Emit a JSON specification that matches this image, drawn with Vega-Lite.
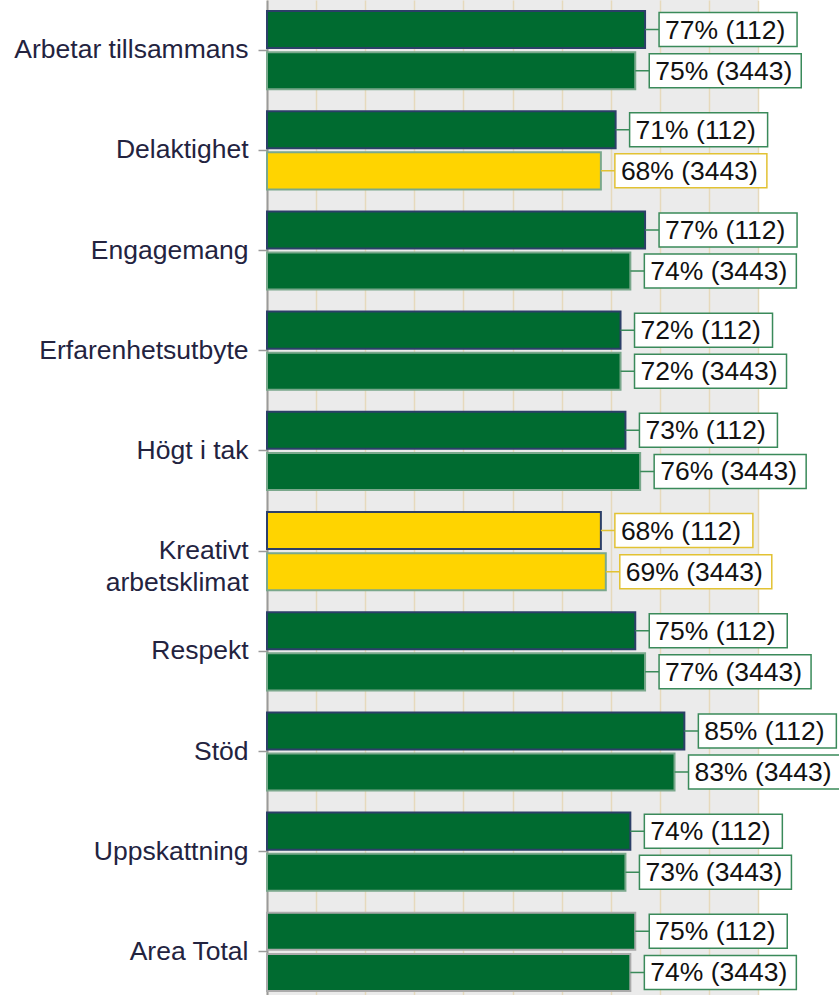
{
  "$schema": "https://vega.github.io/schema/vega-lite/v6.json",
  "width": 491,
  "height": 1002,
  "autosize": {"type": "none"},
  "padding": {"left": 267, "top": 0, "right": 81, "bottom": 0},
  "background": "white",
  "config": {
    "view": {"fill": "#ebebeb", "stroke": null},
    "font": "Liberation Sans"
  },
  "data": {
    "values": [
      {"category": "Arbetar tillsammans", "group": "112", "value": 0.77, "label": "77% (112)"},
      {"category": "Arbetar tillsammans", "group": "3443", "value": 0.75, "label": "75% (3443)"},
      {"category": "Delaktighet", "group": "112", "value": 0.71, "label": "71% (112)"},
      {"category": "Delaktighet", "group": "3443", "value": 0.68, "label": "68% (3443)"},
      {"category": "Engagemang", "group": "112", "value": 0.77, "label": "77% (112)"},
      {"category": "Engagemang", "group": "3443", "value": 0.74, "label": "74% (3443)"},
      {"category": "Erfarenhetsutbyte", "group": "112", "value": 0.72, "label": "72% (112)"},
      {"category": "Erfarenhetsutbyte", "group": "3443", "value": 0.72, "label": "72% (3443)"},
      {"category": "Högt i tak", "group": "112", "value": 0.73, "label": "73% (112)"},
      {"category": "Högt i tak", "group": "3443", "value": 0.76, "label": "76% (3443)"},
      {"category": "Kreativt arbetsklimat", "group": "112", "value": 0.68, "label": "68% (112)"},
      {"category": "Kreativt arbetsklimat", "group": "3443", "value": 0.69, "label": "69% (3443)"},
      {"category": "Respekt", "group": "112", "value": 0.75, "label": "75% (112)"},
      {"category": "Respekt", "group": "3443", "value": 0.77, "label": "77% (3443)"},
      {"category": "Stöd", "group": "112", "value": 0.85, "label": "85% (112)"},
      {"category": "Stöd", "group": "3443", "value": 0.83, "label": "83% (3443)"},
      {"category": "Uppskattning", "group": "112", "value": 0.74, "label": "74% (112)"},
      {"category": "Uppskattning", "group": "3443", "value": 0.73, "label": "73% (3443)"},
      {"category": "Area Total", "group": "112", "value": 0.75, "label": "75% (112)"},
      {"category": "Area Total", "group": "3443", "value": 0.74, "label": "74% (3443)"}
    ]
  },
  "encoding": {
    "y": {
      "field": "category",
      "type": "nominal",
      "sort": null,
      "scale": {"paddingInner": 0.22, "paddingOuter": 0.11},
      "axis": {
        "title": null,
        "labelFontSize": 26.5,
        "labelFont": "Liberation Sans",
        "labelColor": "#23233f",
        "labelPadding": 10,
        "labelLimit": 400,
        "labelLineHeight": 32,
        "labelExpr": "datum.label == 'Kreativt arbetsklimat' ? ['Kreativt', 'arbetsklimat'] : datum.label",
        "tickSize": 9,
        "tickColor": "#9a9a9a",
        "tickWidth": 1.5,
        "domainColor": "#9a9a9a",
        "domainWidth": 2
      }
    },
    "yOffset": {
      "field": "group",
      "type": "nominal",
      "scale": {"paddingInner": 0.1, "paddingOuter": 0}
    },
    "x": {
      "field": "value",
      "type": "quantitative",
      "scale": {"domain": [0, 1], "nice": false, "zero": true},
      "axis": {
        "title": null,
        "labels": false,
        "ticks": false,
        "domain": false,
        "grid": true,
        "gridColor": "#e6d9bc",
        "gridWidth": 1.5,
        "values": [0, 0.1, 0.2, 0.3, 0.4, 0.5, 0.6, 0.7, 0.8, 0.9, 1.0]
      }
    }
  },
  "layer": [
    {
      "mark": {"type": "bar", "strokeWidth": 2},
      "encoding": {
        "fill": {
          "condition": {"test": "datum.value < 0.7", "value": "#ffd400"},
          "value": "#006b30"
        },
        "stroke": {
          "condition": {"test": "datum.category === 'Area Total'", "value": "#ababab"},
          "field": "group",
          "type": "nominal",
          "scale": {"domain": ["112", "3443"], "range": ["#2c3f68", "#7aa88c"]},
          "legend": null
        }
      }
    },
    {
      "mark": {"type": "point", "filled": true, "fill": "white", "opacity": 1, "strokeWidth": 1.5, "size": 40000},
      "encoding": {
        "shape": {
          "field": "group",
          "type": "nominal",
          "scale": {
            "domain": ["112", "3443"],
            "range": [
              "M0,0 L0.14,0 M0.14,-0.17 L1.52,-0.17 L1.52,0.17 L0.14,0.17 Z",
              "M0,0 L0.14,0 M0.14,-0.17 L1.66,-0.17 L1.66,0.17 L0.14,0.17 Z"
            ]
          },
          "legend": null
        },
        "stroke": {
          "condition": {"test": "datum.value < 0.7", "value": "#e2c233"},
          "value": "#3a8a5a"
        }
      }
    },
    {
      "mark": {"type": "text", "align": "left", "baseline": "middle", "xOffset": 20, "dy": 1, "fontSize": 26.5, "font": "Liberation Sans", "color": "#111111"},
      "encoding": {
        "text": {"field": "label", "type": "nominal"}
      }
    }
  ]
}
